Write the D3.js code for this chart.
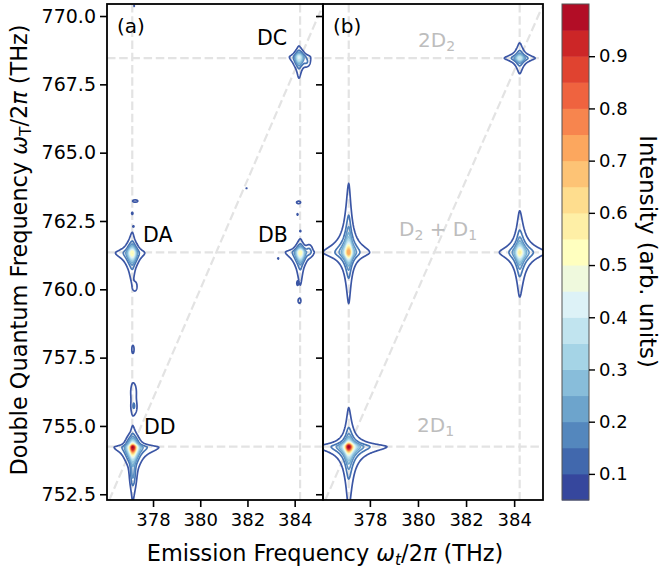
<!DOCTYPE html>
<html>
<head>
<meta charset="utf-8">
<script src="https://cdn.jsdelivr.net/npm/d3@7"></script>
<style>
  body { margin: 0; background: #fff; }
  svg { font-family: "DejaVu Sans", sans-serif; }
</style>
</head>
<body>
<svg id="chart" width="661" height="574"></svg>
<script>
// ---- axis ranges and ticks (THz) ----
const xDomain = [376.05, 385.2];
const yDomain = [752.29, 770.44];
const xTicks = [378, 380, 382, 384];
const yTicks = [752.5, 755.0, 757.5, 760.0, 762.5, 765.0, 767.5, 770.0];

// ---- contour levels and colourbar ----
const levels = d3.range(1, 21).map(i => +(i * 0.05).toFixed(2));   // 0.05 ... 1.00
const cbarTicks = [0.1, 0.2, 0.3, 0.4, 0.5, 0.6, 0.7, 0.8, 0.9];

// ---- single-quantum resonances D1, D2 and double-quantum sums ----
const resonances = [377.12, 384.23];
const dqSums = [754.24, 761.35, 768.46];

// ---- (b) simulated peaks: centre x, centre y, amplitude,
//      reach of the lowest contour to the left, right, down, up (THz) ----
const simPeaks = [
  [377.12, 754.24, 1.00, 1.30, 1.58, 2.00, 1.16],
  [377.12, 761.35, 0.74, 1.00, 0.80, 1.60, 2.35],
  [384.23, 761.35, 0.56, 0.78, 1.00, 1.58, 1.44],
  [384.23, 768.46, 0.38, 0.63, 0.63, 0.49, 0.49]
];

// ---- (a) measured peaks, same layout as simPeaks ----
const measPeaks = [
  [377.14, 754.22, 0.80, 0.78, 1.10, 1.85, 0.70],
  [377.12, 761.33, 0.40, 0.68, 0.50, 1.05, 0.72],
  [384.24, 761.36, 0.40, 0.60, 0.50, 1.15, 0.45],
  [384.18, 768.50, 0.30, 0.40, 0.45, 0.75, 0.38]
];
// broad bases and small isolated features of the measured map:
// centre x, centre y, amplitude, sigma x, sigma y (THz)
const measBlobs = [
  [377.12, 754.18, 0.20, 0.16, 0.26],
  [377.13, 761.30, 0.14, 0.12, 0.20],
  [384.25, 761.30, 0.14, 0.12, 0.18],
  [384.20, 768.45, 0.11, 0.12, 0.16],
  [384.52, 768.30, 0.060, 0.10, 0.12],
  [377.15, 753.20, 0.060, 0.08, 0.30],
  [377.26, 763.23, 0.070, 0.10, 0.04],
  [377.12, 762.78, 0.060, 0.02, 0.03],
  [377.17, 762.30, 0.055, 0.015, 0.015],
  [377.20, 770.37, 0.060, 0.015, 0.03],
  [381.96, 763.70, 0.060, 0.02, 0.03],
  [384.16, 763.18, 0.070, 0.08, 0.04],
  [384.12, 762.74, 0.060, 0.02, 0.03],
  [384.24, 762.13, 0.055, 0.015, 0.015],
  [383.30, 761.13, 0.058, 0.015, 0.02],
  [384.62, 761.45, 0.070, 0.10, 0.15],
  [384.12, 760.22, 0.060, 0.02, 0.05],
  [384.20, 759.58, 0.065, 0.04, 0.06],
  [377.25, 760.10, 0.070, 0.06, 0.12],
  [377.15, 757.80, 0.068, 0.04, 0.12],
  [377.18, 756.25, 0.075, 0.10, 0.25],
  [377.20, 755.70, 0.075, 0.10, 0.20]
];

// ---- colour map (RdYlBu, reversed) ----
const rdylbu = ["#313695", "#4575b4", "#74add1", "#abd9e9", "#e0f3f8", "#ffffbf",
                "#fee090", "#fdae61", "#f46d43", "#d73027", "#a50026"];
const cmap = d3.scaleLinear().domain(d3.range(11).map(i => i / 10)).range(rdylbu)
  .interpolate(d3.interpolateRgb).clamp(true);
const lo = levels[0], hi = levels[levels.length - 1];
const norm = v => (v - lo) / (hi - lo);

// ---- layout ----
const svg = d3.select("#chart");
const plotTop = 4, plotBottom = 500;
const panels = [
  { id: "a", left: 107, right: 323, peaks: measPeaks, blobs: measBlobs },
  { id: "b", left: 323, right: 543, peaks: simPeaks, blobs: [] }
];
const ys = d3.scaleLinear().domain(yDomain).range([plotBottom, plotTop]);

const P = 0.6;   // exponent of the star-shaped line profile

function buildField(peaks, blobs) {
  const x0 = xDomain[0] - 0.6, x1 = xDomain[1] + 0.6;
  const y0 = yDomain[0] - 0.6, y1 = yDomain[1] + 0.6;
  const dx = 1 / 48, dy = 1 / 55;
  const nx = Math.ceil((x1 - x0) / dx) + 1, ny = Math.ceil((y1 - y0) / dy) + 1;
  const v = new Float64Array(nx * ny);
  const X = Float64Array.from({ length: nx }, (_, i) => x0 + i * dx);
  const Y = Float64Array.from({ length: ny }, (_, j) => y1 - j * dy);
  for (const [cx, cy, amp, rl, rr, rd, ru] of peaks) {
    const k = Math.sqrt(Math.pow(amp / lo, 1 / P) - 1);
    const fx = new Float64Array(nx), fy = new Float64Array(ny);
    for (let i = 0; i < nx; i++) {
      const d = X[i] - cx, g = (d < 0 ? rl : rr) / k;
      fx[i] = 1 + (d / g) * (d / g);
    }
    for (let j = 0; j < ny; j++) {
      const d = Y[j] - cy, g = (d < 0 ? rd : ru) / k;
      fy[j] = 1 + (d / g) * (d / g);
    }
    for (let j = 0; j < ny; j++) {
      const row = j * nx, b = fy[j];
      for (let i = 0; i < nx; i++) v[row + i] += amp * Math.pow(fx[i] * b, -P);
    }
  }
  for (const [cx, cy, amp, sx, sy] of blobs) {
    const i0 = Math.max(0, Math.floor((cx - 5 * sx - x0) / dx)), i1 = Math.min(nx - 1, Math.ceil((cx + 5 * sx - x0) / dx));
    const j0 = Math.max(0, Math.floor((y1 - (cy + 5 * sy)) / dy)), j1 = Math.min(ny - 1, Math.ceil((y1 - (cy - 5 * sy)) / dy));
    for (let j = j0; j <= j1; j++) {
      const ey = (Y[j] - cy) / sy;
      for (let i = i0; i <= i1; i++) {
        const ex = (X[i] - cx) / sx;
        v[j * nx + i] += amp * Math.exp(-0.5 * (ex * ex + ey * ey));
      }
    }
  }
  return { x0, y1, dx, dy, nx, ny, v };
}

const defs = svg.append("defs");

panels.forEach(p => {
  const xs = d3.scaleLinear().domain(xDomain).range([p.left, p.right]);
  const g = svg.append("g");

  defs.append("clipPath").attr("id", "clip-" + p.id)
    .append("rect").attr("x", p.left).attr("y", plotTop)
    .attr("width", p.right - p.left).attr("height", plotBottom - plotTop);
  const plot = g.append("g").attr("clip-path", `url(#clip-${p.id})`);

  // dashed guides: resonances, double-quantum sums and the diagonal ωT = 2ωt
  const guide = sel => sel.attr("stroke", "#e3e3e3").attr("stroke-width", 2.2)
    .attr("stroke-dasharray", "8.5,3.7").attr("fill", "none");
  plot.selectAll(".vr").data(resonances).join("line")
    .attr("x1", d => xs(d)).attr("x2", d => xs(d)).attr("y1", plotTop).attr("y2", plotBottom).call(guide);
  plot.selectAll(".hr").data(dqSums).join("line")
    .attr("x1", p.left).attr("x2", p.right).attr("y1", d => ys(d)).attr("y2", d => ys(d)).call(guide);
  plot.append("line")
    .attr("x1", xs(yDomain[0] / 2)).attr("y1", ys(yDomain[0]))
    .attr("x2", xs(yDomain[1] / 2)).attr("y2", ys(yDomain[1])).call(guide);

  // contour lines of the 2D map, coloured by level
  const f = buildField(p.peaks, p.blobs);
  const polys = d3.contours().size([f.nx, f.ny]).thresholds(levels)(f.v);
  const proj = d3.geoTransform({
    point(px, py) {
      this.stream.point(xs(f.x0 + (px - 0.5) * f.dx), ys(f.y1 - (py - 0.5) * f.dy));
    }
  });
  const path = d3.geoPath(proj);
  plot.selectAll("path.c").data(polys).join("path")
    .attr("class", "c")
    .attr("d", path)
    .attr("fill", "none")
    .attr("stroke", d => cmap(d.value))
    .attr("stroke-width", 1.7)
    .attr("stroke-linejoin", "round");

  // axes
  const ax = g.append("g").attr("transform", `translate(0,${plotBottom})`)
    .call(d3.axisBottom(xs).tickValues(xTicks).tickSize(7).tickPadding(6).tickFormat(d3.format("d")));
  const ay = g.append("g").attr("transform", `translate(${p.left},0)`)
    .call(d3.axisLeft(ys).tickValues(yTicks).tickSize(7).tickPadding(4)
      .tickFormat(p.id === "a" ? d3.format(".1f") : () => ""));
  [ax, ay].forEach((a, i) => {
    a.select(".domain").remove();
    a.selectAll(".tick line").attr("stroke", "#000").attr("stroke-width", 1.6);
    a.selectAll(".tick text").attr("fill", "#000").attr("font-size", i === 0 ? 18 : 19)
      .attr("font-family", "DejaVu Sans");
  });
  g.append("rect").attr("x", p.left).attr("y", plotTop)
    .attr("width", p.right - p.left).attr("height", plotBottom - plotTop)
    .attr("fill", "none").attr("stroke", "#000").attr("stroke-width", 1.8);

  g.append("text").attr("x", p.left + 10).attr("y", 33)
    .attr("font-size", 20).text(`(${p.id})`);
});

// peak names in (a)
const peakNames = [["DC", 257, 45], ["DA", 143, 242], ["DB", 258, 242], ["DD", 144, 434]];
svg.selectAll(".pn").data(peakNames).join("text")
  .attr("x", d => d[1]).attr("y", d => d[2])
  .attr("font-size", 20.5).attr("fill", "#000").text(d => d[0]);

// double-quantum assignments in (b)
function subLabel(parts, x, y) {
  const t = svg.append("text").attr("x", x).attr("y", y).attr("font-size", 20).attr("fill", "#bdbdbd");
  let shifted = false;
  parts.forEach(([s, sub]) => {
    const ts = t.append("tspan").text(s);
    if (sub) { ts.attr("font-size", 14).attr("dy", 4); shifted = true; }
    else if (shifted) { ts.attr("dy", -4); shifted = false; }
  });
}
subLabel([["2D"], ["2", true]], 418, 46.5);
subLabel([["D"], ["2", true], [" + D"], ["1", true]], 399, 236);
subLabel([["2D"], ["1", true]], 417, 432);

// axis titles
const xl = svg.append("text").attr("x", 325).attr("y", 561).attr("text-anchor", "middle")
  .attr("font-size", 22.4).attr("fill", "#000");
xl.append("tspan").text("Emission Frequency ");
xl.append("tspan").attr("font-style", "italic").text("ω");
xl.append("tspan").attr("font-style", "italic").attr("font-size", 15.5).attr("dy", 4).text("t");
xl.append("tspan").attr("dy", -4).text("/2");
xl.append("tspan").attr("font-style", "italic").text("π");
xl.append("tspan").text(" (THz)");

const yl = svg.append("text").attr("transform", "translate(26.5,250) rotate(-90)")
  .attr("text-anchor", "middle").attr("font-size", 22.4).attr("fill", "#000");
yl.append("tspan").text("Double Quantum Frequency ");
yl.append("tspan").attr("font-style", "italic").text("ω");
yl.append("tspan").attr("font-size", 15.5).attr("dy", 4).text("T");
yl.append("tspan").attr("dy", -4).text("/2");
yl.append("tspan").attr("font-style", "italic").text("π");
yl.append("tspan").text(" (THz)");

// colourbar
const cbL = 562, cbR = 589;
const cb = d3.scaleLinear().domain([lo, hi]).range([plotBottom, plotTop]);
const bands = d3.pairs(levels);
svg.append("g").selectAll("rect").data(bands).join("rect")
  .attr("x", cbL).attr("width", cbR - cbL)
  .attr("y", d => cb(d[1])).attr("height", d => cb(d[0]) - cb(d[1]) + 0.5)
  .attr("fill", d => cmap(norm((d[0] + d[1]) / 2)));
svg.append("rect").attr("x", cbL).attr("y", plotTop).attr("width", cbR - cbL).attr("height", plotBottom - plotTop)
  .attr("fill", "none").attr("stroke", "#555").attr("stroke-width", 1);
const cba = svg.append("g").attr("transform", `translate(${cbR},0)`)
  .call(d3.axisRight(cb).tickValues(cbarTicks).tickSize(6).tickPadding(4).tickFormat(d3.format(".1f")));
cba.select(".domain").remove();
cba.selectAll(".tick line").attr("stroke", "#000").attr("stroke-width", 1.4);
cba.selectAll(".tick text").attr("fill", "#000").attr("font-size", 18).attr("font-family", "DejaVu Sans");

svg.append("text").attr("transform", "translate(640,251.5) rotate(90)")
  .attr("text-anchor", "middle").attr("font-size", 22.8).attr("fill", "#000")
  .text("Intensity (arb. units)");
</script>
</body>
</html>
